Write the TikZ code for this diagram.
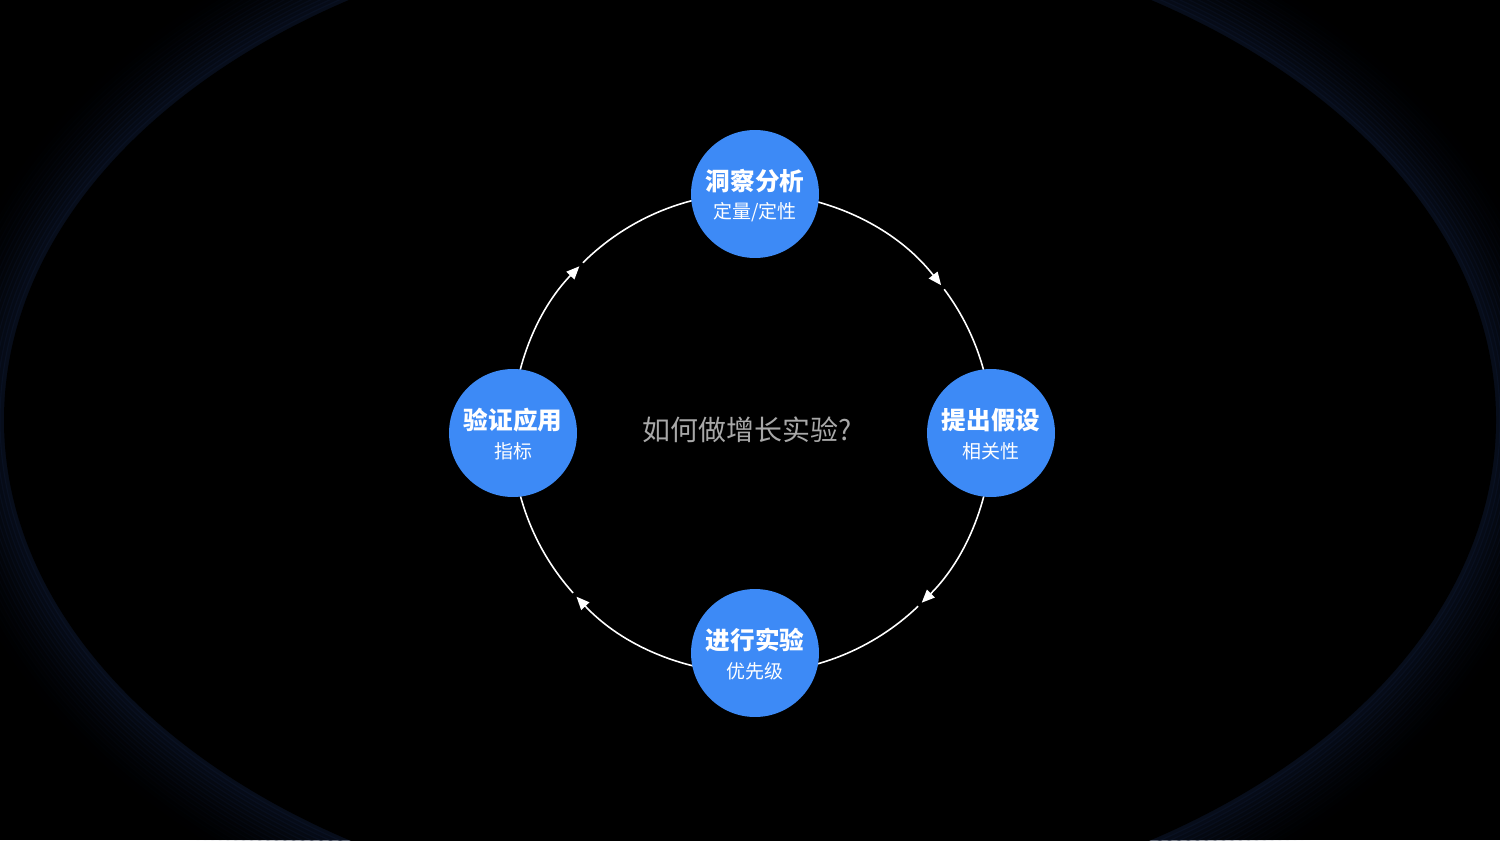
\documentclass[tikz,border=0pt]{standalone}
\usepackage{fontspec}
\newfontfamily\cjk{Noto Sans CJK SC}
\usetikzlibrary{arrows.meta,calc}
\definecolor{stageblue}{HTML}{3D8AF6}
\definecolor{glow}{HTML}{0B1428}
\definecolor{midgray}{HTML}{A8A8A8}
\tikzset{
  stage/.style={circle, fill=stageblue, minimum size=2.56cm, inner sep=0pt},
  ttl/.style={text=white, font=\cjk\bfseries\fontsize{14pt}{16pt}\selectfont, inner sep=0pt},
  sub/.style={text=white, font=\cjk\fontsize{10.8pt}{12pt}\selectfont, inner sep=0pt},
  ring/.style={draw=white, line width=0.9pt},
  ringarrow/.style={ring, -{Triangle[length=7.4pt,width=6.2pt]}},
}
\begin{document}
\begin{tikzpicture}[x=0.02cm, y=0.02cm]
\useasboundingbox (0,0) rectangle (1500,840);
\fill[black] (0,0) rectangle (1500,840);
% background glow band
\begin{scope}
  \clip (0,0) rectangle (1500,840);
  \foreach \i in {0,...,19}{
    \pgfmathsetmacro{\op}{0.65*(1-\i/20)^2}
    \draw[glow, line width=2.9pt, opacity=\op] (750,420) ellipse [x radius={748+4*\i}, y radius={500+4*\i}];
  }
  \fill[black] (750,420) ellipse [x radius=746, y radius=498];
\end{scope}
% ring
\def\R{240}
\coordinate (ctr) at (752,407);
\coordinate (ptop) at ($(ctr)+(90:\R)$);
\coordinate (pright) at ($(ctr)+(0:\R)$);
\coordinate (pbottom) at ($(ctr)+(-90:\R)$);
\coordinate (pleft) at ($(ctr)+(180:\R)$);
\draw[ringarrow] (ptop) arc[start angle=90, end angle=38, radius=\R];
\draw[ring] (pright) arc[start angle=0, end angle=36.8, radius=\R];
\draw[ringarrow] (pright) arc[start angle=0, end angle=-45, radius=\R];
\draw[ring] (pbottom) arc[start angle=-90, end angle=-46.2, radius=\R];
\draw[ringarrow] (pbottom) arc[start angle=-90, end angle=-137, radius=\R];
\draw[ring] (pleft) arc[start angle=180, end angle=221.8, radius=\R];
\draw[ringarrow] (pleft) arc[start angle=180, end angle=136, radius=\R];
\draw[ring] (ptop) arc[start angle=90, end angle=134.8, radius=\R];
% stages
\node[stage] (n1) at (755,646) {};
\node[stage] (n2) at (991,407) {};
\node[stage] (n3) at (755,187) {};
\node[stage] (n4) at (513,407) {};
\node[ttl] (t1) at ($(n1)+(0,13)$) {洞察分析};
\node[sub] (s1) at ($(n1)+(0,-18.5)$) {定量/定性};
\node[ttl] (t2) at ($(n2)+(0,13)$) {提出假设};
\node[sub] (s2) at ($(n2)+(0,-18.5)$) {相关性};
\node[ttl] (t3) at ($(n3)+(0,13)$) {进行实验};
\node[sub] (s3) at ($(n3)+(0,-18.5)$) {优先级};
\node[ttl] (t4) at ($(n4)+(0,13)$) {验证应用};
\node[sub] (s4) at ($(n4)+(0,-18.5)$) {指标};
% centre question
\node[text=midgray, font=\cjk\fontsize{15.9pt}{18pt}\selectfont, inner sep=0pt] (q) at (747,410) {如何做增长实验?};
\end{tikzpicture}
\end{document}
